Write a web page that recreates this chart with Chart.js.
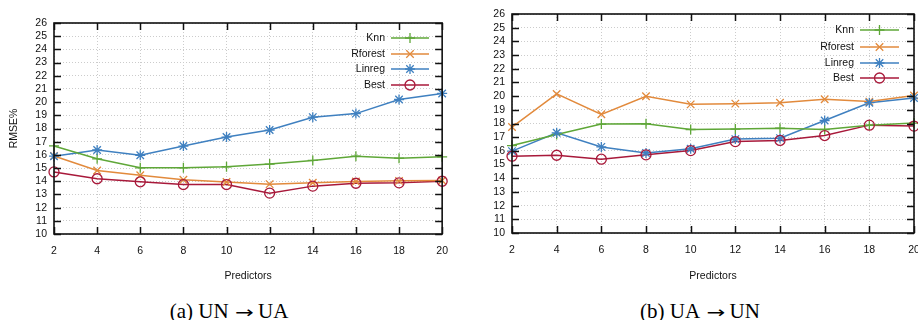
<!DOCTYPE html>
<html><head><meta charset="utf-8">
<script src="https://cdn.jsdelivr.net/npm/chart.js@4/dist/chart.umd.min.js"></script>
<style>
html,body{margin:0;padding:0;background:#fff;width:918px;height:320px;overflow:hidden;position:relative;}
.wrap{position:absolute;top:0;}
.cap{position:absolute;font-family:"Liberation Serif","Times New Roman",serif;font-size:21px;color:#000;white-space:nowrap;transform:translateX(-50%);}
.arr{display:inline-block;font-family:"DejaVu Sans",sans-serif;font-size:16px;transform:scaleX(1.4);margin:0 7px 0 9px;}
</style></head><body>
<div class="wrap" style="left:0;width:459px;height:290px;"><canvas id="c1"></canvas></div>
<div class="wrap" style="left:459px;width:480px;height:290px;"><canvas id="c2"></canvas></div>
<div class="cap" style="left:229px;top:299px;">(a) UN<span class="arr">→</span>UA</div>
<div class="cap" style="left:700px;top:299px;">(b) UA<span class="arr">→</span>UN</div>
<script>
const predictors = [2,4,6,8,10,12,14,16,18,20];
const seriesNames = ["Knn","Rforest","Linreg","Best"];
const yTicks = [10,11,12,13,14,15,16,17,18,19,20,21,22,23,24,25,26];
const xTicks = [2,4,6,8,10,12,14,16,18,20];

// (a) UN -> UA
const a_knn    = [16.68,15.70,15.02,15.02,15.10,15.30,15.58,15.90,15.75,15.85];
const a_rforest= [15.92,14.82,14.45,14.12,13.94,13.78,13.88,13.98,14.03,14.06];
const a_linreg = [15.90,16.37,15.97,16.67,17.35,17.88,18.86,19.13,20.20,20.66];
const a_best   = [14.71,14.19,13.96,13.75,13.75,13.10,13.63,13.85,13.88,14.00];

// (b) UA -> UN
const b_knn    = [16.39,17.20,17.96,17.98,17.56,17.59,17.66,17.56,17.88,18.03];
const b_rforest= [17.74,20.16,18.67,19.99,19.40,19.45,19.52,19.77,19.60,20.04];
const b_linreg = [15.98,17.32,16.29,15.85,16.15,16.86,16.93,18.22,19.52,19.86];
const b_best   = [15.61,15.68,15.39,15.71,16.02,16.68,16.76,17.12,17.88,17.81];

const colors = ["#5fa738","#e28a3c","#3f80c0","#a8193a"];
const markers = ["cross","crossRot","star","circle"];
const FONT = '"Liberation Sans", Arial, sans-serif';

function drawMarker(ctx, style, x, y, r, color){
  ctx.save();
  ctx.strokeStyle = color; ctx.lineWidth = 1.3;
  ctx.beginPath();
  if (style === "cross" || style === "star"){
    ctx.moveTo(x-r,y); ctx.lineTo(x+r,y); ctx.moveTo(x,y-r); ctx.lineTo(x,y+r);
  }
  if (style === "crossRot" || style === "star"){
    const d = r*0.75;
    ctx.moveTo(x-d,y-d); ctx.lineTo(x+d,y+d); ctx.moveTo(x+d,y-d); ctx.lineTo(x-d,y+d);
  }
  if (style === "circle"){ ctx.arc(x,y,r,0,Math.PI*2); }
  ctx.stroke();
  ctx.restore();
}

const framePlugin = {
  id: "frame",
  afterDatasetsDraw(chart, args, opts){
    const ctx = chart.ctx, a = chart.chartArea;
    const xs = chart.scales.x, ys = chart.scales.y;
    ctx.save();
    ctx.strokeStyle = "#111"; ctx.lineWidth = 1.5;
    ctx.beginPath();
    const tl = 7;
    xTicks.forEach(v => { const px = Math.round(xs.getPixelForValue(v))+0.5;
      ctx.moveTo(px,a.bottom); ctx.lineTo(px,a.bottom-tl);
      ctx.moveTo(px,a.top); ctx.lineTo(px,a.top+tl); });
    yTicks.forEach(v => { const py = Math.round(ys.getPixelForValue(v))+0.5;
      ctx.moveTo(a.left,py); ctx.lineTo(a.left+tl,py);
      ctx.moveTo(a.right,py); ctx.lineTo(a.right-tl,py); });
    ctx.stroke();
    ctx.lineWidth = 1.6;
    ctx.strokeRect(a.left, a.top, a.right-a.left, a.bottom-a.top);
    ctx.restore();
    // legend
    ctx.save();
    ctx.font = "10.5px " + FONT;
    ctx.textAlign = "right"; ctx.textBaseline = "middle"; ctx.fillStyle = "#111";
    chart.data.datasets.forEach((ds, i) => {
      const y = opts.ly[i];
      ctx.fillText(ds.label, opts.lx - 6, y);
      ctx.strokeStyle = ds.borderColor; ctx.lineWidth = 1.5;
      ctx.beginPath(); ctx.moveTo(opts.lx, y); ctx.lineTo(opts.lx + opts.lw, y); ctx.stroke();
      drawMarker(ctx, markers[i], opts.lx + opts.lw/2, y, 5, ds.borderColor);
    });
    ctx.restore();
  }
};

const markerPlugin = {
  id: "markers",
  afterDatasetsDraw(chart){
    const ctx = chart.ctx;
    chart.data.datasets.forEach((ds, i) => {
      const meta = chart.getDatasetMeta(i);
      meta.data.forEach(pt => drawMarker(ctx, markers[i], pt.x, pt.y, 5, ds.borderColor));
    });
  }
};

function makeChart(id, series, cfg){
  const datasets = series.map((vals, i) => ({
    label: seriesNames[i],
    data: predictors.map((p, j) => ({x: p, y: vals[j]})),
    borderColor: colors[i], backgroundColor: colors[i],
    borderWidth: 1.5, pointRadius: 0, tension: 0, clip: false
  }));
  return new Chart(document.getElementById(id), {
    type: "line",
    data: { datasets },
    options: {
      responsive: true, maintainAspectRatio: false, animation: false,
      layout: { padding: { left: 0, top: cfg.top, right: cfg.right, bottom: 0 } },
      plugins: { legend: {display:false}, tooltip: {enabled:false},
        frame: cfg.legend },
      scales: {
        x: { type: "linear", min: 2, max: 20,
          afterBuildTicks: s => { s.ticks = xTicks.map(v => ({value:v})); },
          afterFit: s => { s.height = 290 - cfg.bottom; },
          grid: { color: "#cccccc", lineWidth: 1, drawTicks: false },
          border: { display: false, dash: [1,2] },
          ticks: { padding: 11, autoSkip: false, color: "#111", font: { family: FONT, size: 10.5 }, maxRotation: 0 },
          title: { display: true, text: "Predictors", color: "#111",
            font: { family: FONT, size: 10.5 }, padding: { top: 0, bottom: 8 } }
        },
        y: { min: 10, max: 26,
          afterBuildTicks: s => { s.ticks = yTicks.map(v => ({value:v})); },
          afterFit: s => { s.width = cfg.left; },
          grid: { color: "#cccccc", lineWidth: 1, drawTicks: false },
          border: { display: false, dash: [1,2] },
          ticks: { padding: 7, autoSkip: false, color: "#111", font: { family: FONT, size: 10.5 } },
          title: { display: cfg.ytitle, text: "RMSE%", color: "#111",
            font: { family: FONT, size: 10.5 }, padding: { top: 8, bottom: 0 } }
        }
      }
    },
    plugins: [markerPlugin, framePlugin]
  });
}

makeChart("c1", [a_knn, a_rforest, a_linreg, a_best],
  { top: 23, right: 459-443, bottom: 234, left: 54, ytitle: true,
    legend: { lx: 391, lw: 38, ly: [38,54,69,85] } });
makeChart("c2", [b_knn, b_rforest, b_linreg, b_best],
  { top: 14, right: 480-455, bottom: 233, left: 53, ytitle: false,
    legend: { lx: 860-459, lw: 39, ly: [30,47,63,78] } });
</script>
</body></html>
